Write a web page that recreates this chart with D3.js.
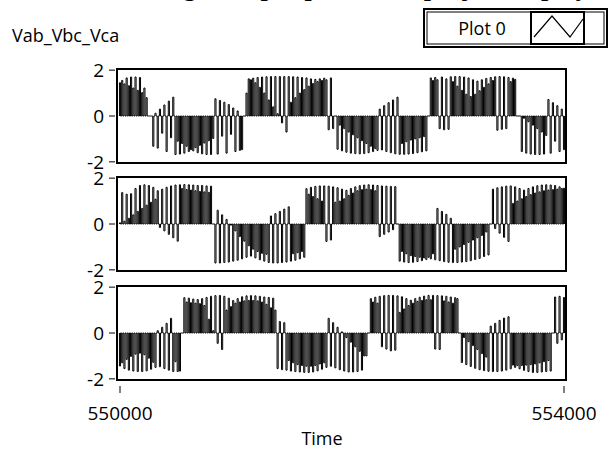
<!DOCTYPE html>
<html>
<head>
<meta charset="utf-8">
<script src="https://cdnjs.cloudflare.com/ajax/libs/d3/7.8.5/d3.min.js"></script>
<style>
  body { margin: 0; background: #fff; }
  svg { display: block; }
  .lbl { font-family: "Open Sans", "Noto Sans", sans-serif; fill: #000; }
</style>
</head>
<body>
<svg id="chart" width="610" height="457"></svg>
<script>
// Waveform data, LabVIEW style: start time, step, one pulse height per step
const t0 = 550000
const dt = 20

const vab = [
    1.45, 1.55, 1.40, 1.66, 1.32, 1.70, 1.22, 1.70, 1.12, 1.68,
    1.02, 1.22, 0.80, 0, 0, -1.32, 0.12, -1.40, 0.30, -0.75,
    0.48, -1.55, 0.65, -0.95, 0.82, -1.68, -1.10, -1.66, -1.20, -1.62,
    -1.32, -1.55, -1.47, -1.52, -1.38, -1.60, -1.28, -1.65, -1.18, -1.68,
    -1.08, -1.68, -0.98, 0.75, -1.66, 0.68, -0.88, 0.60, -1.62, 0.50,
    -0.80, 0.35, -1.55, 0.22, -1.50, -1.47, 0, 1.00, 1.62, 1.58,
    1.65, 1.45, 1.68, 1.25, 1.70, 1.00, 1.71, 0.70, 1.72, 0.40,
    1.72, 0.10, 1.72, -0.30, 1.72, -0.70, 1.72, 0.60, 1.71, 0.80,
    1.70, 1.00, 1.68, 1.15, 1.66, 1.30, 1.62, 1.42, 1.60, 1.50,
    1.62, 1.55, 1.65, 1.58, -0.60, 1.66, -0.55, 0, -1.45, -0.40,
    -1.52, -0.55, -1.58, -0.70, -1.62, -0.82, -1.64, -0.95, -1.65, -1.08,
    -1.64, -1.20, -1.60, -1.32, -1.55, -1.42, -1.50, 0.30, -1.48, 0.45,
    -1.55, 0.58, -1.60, 0.70, -1.65, 0.82, -1.67, -1.20, -1.67, -1.12,
    -1.66, -1.05, -1.64, -1.00, -1.60, -0.95, -1.56, -0.90, -1.52, 0,
    1.66, 1.55, 1.68, 1.58, -0.55, 1.70, -0.60, 1.62, -0.58, 1.71,
    1.50, 1.72, 1.30, 1.72, 1.12, 1.70, 0.95, 1.66, 0.85, 1.58,
    0.95, 1.52, 1.10, 1.58, 1.25, 1.64, 1.40, 1.68, 1.55, 1.71,
    -0.62, 1.72, -0.58, 1.71, -0.55, 1.68, 1.50, 1.65, 1.60, 0,
    0, -1.55, -0.10, -1.62, -0.25, -1.66, -0.40, -1.68, -0.55, -1.68,
    -0.70, -1.66, -0.85, 0.72, -1.62, 0.58, -1.10, 0.45, -1.55, 0.30,
    -1.47
]

const vbc = [
    0.05, 1.37, 0.12, 1.30, 0.25, 1.32, 0.40, 1.55, 0.55, 1.68,
    0.68, 1.71, 0.82, 1.68, 0.95, 1.60, 1.08, 1.45, -0.15, 1.52,
    -0.30, 1.60, -0.45, 1.66, -0.60, 1.70, -0.75, 1.71, 1.55, 1.72,
    1.50, 1.71, 1.48, 1.70, 1.45, 1.68, 1.42, 1.68, 1.40, 1.66,
    1.38, 1.65, 0, -1.70, 0.60, -1.70, 0.40, -1.68, 0.20, -1.66,
    -0.05, -1.62, -0.30, -1.58, -0.55, -1.52, -0.75, -1.45, -0.95, -1.40,
    -1.10, -1.48, -1.20, -1.56, -1.28, -1.62, -1.32, -1.68, 0.35, -1.70,
    0.45, -1.70, 0.55, -1.68, 0.65, -1.66, 0.75, -1.62, -1.30, -1.58,
    -1.25, -1.52, -1.20, -1.45, 1.54, 1.30, 1.60, 1.20, 1.64, 1.10,
    1.66, 1.00, 1.66, -0.76, 1.65, -0.70, 1.62, 0.95, 1.58, 1.00,
    1.52, 1.10, 1.47, 1.25, 1.55, 1.35, 1.62, 1.45, 1.67, 1.50,
    1.70, 1.52, 1.71, 1.50, 1.70, 1.45, 1.68, -0.55, 1.66, -0.45,
    1.65, -0.35, 1.64, -0.25, 1.63, 0, -1.62, -1.20, -1.66, -1.30,
    -1.68, -1.38, -1.67, -1.42, -1.64, -1.45, -1.60, -1.48, -1.55, -1.45,
    -1.52, -1.30, -1.56, 0.68, -1.60, 0.55, -1.64, 0.42, -1.67, 0.25,
    -1.68, -1.10, -1.68, -1.00, -1.66, -0.90, -1.64, -0.80, -1.60, -0.70,
    -1.55, -0.60, -1.50, -0.50, -1.42, -0.35, -1.35, 0, 1.52, -0.20,
    1.58, -0.40, 1.62, -0.58, 1.65, -0.76, 1.66, 0.90, 1.62, 1.00,
    1.55, 1.10, 1.48, 1.20, 1.55, 1.28, 1.62, 1.35, 1.67, 1.40,
    1.70, 1.45, 1.71, 1.48, 1.70, 1.50, 1.68, 1.52, 1.62, 1.55,
    1.56
]

const vca = [
    -1.44, -1.30, -1.55, -1.15, -1.62, -1.02, -1.66, -0.92, -1.68, -0.88,
    -1.68, -0.95, -1.65, -1.10, -1.58, -1.28, -1.50, 0.10, -1.47, 0.25,
    -1.55, 0.42, -1.62, 0.64, -1.68, -1.25, -1.68, -1.66, 0, 1.54,
    1.35, 1.52, 1.32, 1.48, 1.30, 1.46, 1.28, 1.50, 1.20, 1.55,
    0.60, 1.60, 0.10, 1.63, -0.45, 1.64, -0.72, 1.60, 1.00, 1.52,
    1.15, 1.42, 1.30, 1.50, 1.35, 1.58, 1.40, 1.62, 1.42, 1.63,
    1.42, 1.62, 1.40, 1.60, 1.35, 1.57, 1.25, 1.55, 1.10, 1.52,
    1.00, -1.55, 0.50, -1.60, 0.45, -1.62, -1.20, -1.66, -1.30, -1.68,
    -1.38, -1.70, -1.42, -1.72, -1.45, -1.72, -1.45, -1.70, -1.42, -1.65,
    -1.35, -1.58, -1.30, -1.50, 0.64, -1.45, 0.45, -1.52, 0.25, -1.60,
    0.05, -1.66, -0.20, -1.70, -0.40, -1.70, -0.60, -1.68, -0.80, -1.62,
    -1.00, -1.00, 0, 1.50, 1.35, 1.56, 1.30, 1.60, -0.60, 1.63,
    -0.70, 1.64, -0.78, 1.64, -0.75, 1.62, 0.90, 1.58, 1.05, 1.50,
    1.20, 1.43, 1.30, 1.50, 1.38, 1.56, 1.42, 1.61, 1.45, 1.64,
    1.45, 1.64, -0.70, 1.63, -0.72, 1.62, 1.40, 1.60, 1.35, 1.57,
    1.30, 1.54, 1.50, 0, -1.29, -0.20, -1.38, -0.38, -1.46, -0.55,
    -1.54, -0.72, -1.60, -0.90, -1.64, -1.05, -1.67, 0.30, -1.68, 0.42,
    -1.68, 0.55, -1.66, 0.65, -1.62, 0.71, -1.56, -1.40, -1.50, -1.42,
    -1.56, -1.42, -1.63, -1.40, -1.68, -1.38, -1.72, -1.35, -1.72, -1.30,
    -1.70, -1.25, -1.68, -1.20, -1.66, 0, 1.57, -0.45, 1.60, -0.30,
    1.55
]

const xTicks = [550000, 554000]
const yTicks = [-2, 0, 2]
const yLabel = 'Vab_Vbc_Vca'
const xLabel = 'Time'
const legendLabel = 'Plot 0'
const title = 'Line voltages output plot of the project display'

const svg = d3.select('#chart')

// layout
const plotLeft = 117, plotRight = 566
const panels = [
    { data: vab, top: 69, bottom: 163 },
    { data: vbc, top: 177, bottom: 271 },
    { data: vca, top: 286, bottom: 380 }
]

const x = d3.scaleLinear().domain([550000, 554000]).range([120, 564])
const halfW = 5 // half pulse width, time units

// title sits above the window, only its descenders show
svg.append('text')
    .attr('x', 330)
    .attr('y', -4)
    .attr('text-anchor', 'middle')
    .style('font-family', '"Liberation Serif", serif')
    .style('font-weight', 'bold')
    .style('font-size', '26px')
    .text(title)

svg.append('text')
    .attr('class', 'lbl')
    .attr('x', 12)
    .attr('y', 42)
    .style('font-size', '18px')
    .text(yLabel)

panels.forEach(p => {
    let y = d3.scaleLinear().domain([-2.05, 2.05]).range([p.bottom, p.top])

    let pts = []
    p.data.forEach((v, i) => {
        let t = t0 + i * dt
        pts.push([t - halfW, 0], [t - halfW, v], [t + halfW, v], [t + halfW, 0])
    })

    let line = d3.line().x(d => x(d[0])).y(d => y(d[1]))

    let g = svg.append('g')

    g.append('path')
        .attr('d', line(pts))
        .attr('fill', 'none')
        .attr('stroke', '#000')
        .attr('stroke-width', 1)

    g.append('rect')
        .attr('x', plotLeft)
        .attr('y', p.top)
        .attr('width', plotRight - plotLeft)
        .attr('height', p.bottom - p.top)
        .attr('fill', 'none')
        .attr('stroke', '#000')
        .attr('stroke-width', 2)

    // y axis ticks
    let yt = g.selectAll('.ytick').data(yTicks).enter().append('g')
    yt.append('line')
        .attr('x1', 109).attr('x2', 115)
        .attr('y1', d => y(d)).attr('y2', d => y(d))
        .attr('stroke', '#000')
    yt.append('text')
        .attr('class', 'lbl')
        .attr('x', 104)
        .attr('y', d => y(d))
        .attr('dy', '0.36em')
        .attr('text-anchor', 'end')
        .style('font-size', '19px')
        .text(d => d)
})

// x axis
const xt = svg.selectAll('.xtick').data(xTicks).enter().append('g')
xt.append('line')
    .attr('x1', d => x(d)).attr('x2', d => x(d))
    .attr('y1', 386).attr('y2', 393)
    .attr('stroke', '#000')
xt.append('text')
    .attr('class', 'lbl')
    .attr('x', d => x(d))
    .attr('y', 420)
    .attr('text-anchor', 'middle')
    .style('font-size', '19px')
    .text(d => d)

svg.append('text')
    .attr('class', 'lbl')
    .attr('x', 322)
    .attr('y', 445)
    .attr('text-anchor', 'middle')
    .style('font-size', '18px')
    .text(xLabel)

// legend box
const lg = svg.append('g')
lg.append('rect')
    .attr('x', 424).attr('y', 9).attr('width', 183).attr('height', 38)
    .attr('fill', '#fff').attr('stroke', '#000').attr('stroke-width', 2)
lg.append('rect')
    .attr('x', 427).attr('y', 12).attr('width', 177).attr('height', 32)
    .attr('fill', 'none').attr('stroke', '#000').attr('stroke-width', 1)
lg.append('line')
    .attr('x1', 584).attr('x2', 584).attr('y1', 12).attr('y2', 44)
    .attr('stroke', '#000')
lg.append('rect')
    .attr('x', 531).attr('y', 12).attr('width', 53).attr('height', 32)
    .attr('fill', 'none').attr('stroke', '#000').attr('stroke-width', 2)
lg.append('path')
    .attr('d', 'M534,37L552,16L570,37L583,19')
    .attr('fill', 'none').attr('stroke', '#000').attr('stroke-width', 1.2)
lg.append('text')
    .attr('class', 'lbl')
    .attr('x', 482)
    .attr('y', 35)
    .attr('text-anchor', 'middle')
    .style('font-size', '18px')
    .text(legendLabel)
</script>
</body>
</html>
